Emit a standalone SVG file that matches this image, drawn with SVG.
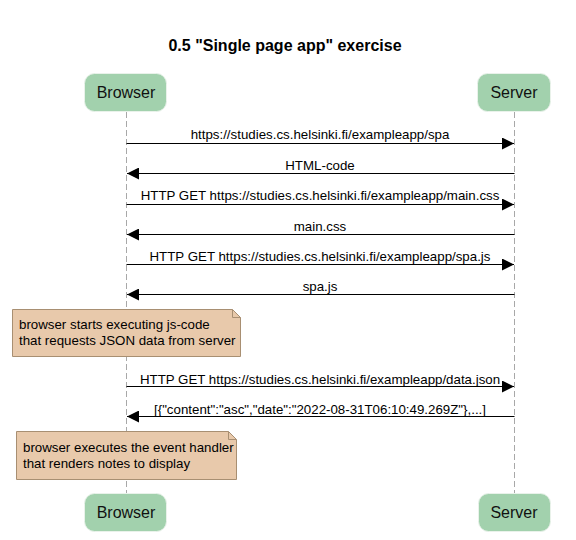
<svg xmlns="http://www.w3.org/2000/svg" width="576" height="540" viewBox="0 0 576 540">
<style>
.actor{fill:#a2d1ad;stroke:#e9f2ea;stroke-width:1}
.atxt{font-family:"Liberation Sans",Arial,sans-serif;font-size:16px;fill:#111;text-anchor:middle}
.msg{font-family:"Liberation Sans",Arial,sans-serif;font-size:13.3px;fill:#000;text-anchor:middle}
.line{stroke:#000;stroke-width:1;fill:none}
.life{stroke:#a8a8a8;stroke-width:1;stroke-dasharray:6,3;fill:none}
.note{fill:#e8c9ab;stroke:#a88f72;stroke-width:1}
.ntxt{font-family:"Liberation Sans",Arial,sans-serif;font-size:13.3px;fill:#000}
</style>
<defs>
<marker id="ah" markerWidth="12" markerHeight="12" refX="10" refY="5" orient="auto" markerUnits="userSpaceOnUse" viewBox="0 0 10 10">
<path d="M0,0 L10,5 L0,10 z" fill="#000"/>
</marker>
</defs>
<rect width="576" height="540" fill="#fff"/>
<text x="285" y="51" font-family="'Liberation Sans',Arial,sans-serif" font-size="16" font-weight="bold" text-anchor="middle">0.5 "Single page app" exercise</text>
<g id="lifelines">
<line class="life" x1="126.5" y1="112" x2="126.5" y2="494"/>
<line class="life" x1="514.5" y1="112" x2="514.5" y2="494"/>
</g>
<g id="browser-top"><rect class="actor" x="84.5" y="73.5" width="82" height="38" rx="10"/><text class="atxt" x="126" y="98">Browser</text></g>
<g id="server-top"><rect class="actor" x="477.5" y="73.5" width="73" height="38" rx="10"/><text class="atxt" x="514" y="98">Server</text></g>
<g id="browser-bottom"><rect class="actor" x="84.5" y="493.5" width="82" height="38" rx="10"/><text class="atxt" x="126" y="518">Browser</text></g>
<g id="server-bottom"><rect class="actor" x="478.5" y="493.5" width="72" height="38" rx="10"/><text class="atxt" x="514" y="518">Server</text></g>
<g id="connectors">
<line class="line" x1="126.5" y1="143.5" x2="514" y2="143.5" marker-end="url(#ah)"/>
<text class="msg" x="320" y="139">https://studies.cs.helsinki.fi/exampleapp/spa</text>
<line class="line" x1="514.5" y1="173.5" x2="127" y2="173.5" marker-end="url(#ah)"/>
<text class="msg" x="320" y="170">HTML-code</text>
<line class="line" x1="126.5" y1="204.5" x2="514" y2="204.5" marker-end="url(#ah)"/>
<text class="msg" x="320" y="200">HTTP GET https://studies.cs.helsinki.fi/exampleapp/main.css</text>
<line class="line" x1="514.5" y1="234.5" x2="127" y2="234.5" marker-end="url(#ah)"/>
<text class="msg" x="320" y="231">main.css</text>
<line class="line" x1="126.5" y1="264.5" x2="514" y2="264.5" marker-end="url(#ah)"/>
<text class="msg" x="320" y="261">HTTP GET https://studies.cs.helsinki.fi/exampleapp/spa.js</text>
<line class="line" x1="514.5" y1="294.5" x2="127" y2="294.5" marker-end="url(#ah)"/>
<text class="msg" x="320" y="291">spa.js</text>
<line class="line" x1="126.5" y1="386.5" x2="514" y2="386.5" marker-end="url(#ah)"/>
<text class="msg" x="320" y="384">HTTP GET https://studies.cs.helsinki.fi/exampleapp/data.json</text>
<line class="line" x1="514.5" y1="416.5" x2="127" y2="416.5" marker-end="url(#ah)"/>
<text class="msg" x="320" y="414">[{"content":"asc","date":"2022-08-31T06:10:49.269Z"},...]</text>
</g>
<g id="note1">
<path class="note" d="M12.5,309.5 H232.5 L240.5,317.5 V356.5 H12.5 Z"/>
<path d="M232.5,309.5 V317.5 H240.5" fill="none" stroke="#a88f72"/>
<text class="ntxt" x="19" y="329">browser starts executing js-code</text>
<text class="ntxt" x="19" y="345">that requests JSON data from server</text>
</g>
<g id="note2">
<path class="note" d="M16.5,431.5 H228.5 L236.5,439.5 V479.5 H16.5 Z"/>
<path d="M228.5,431.5 V439.5 H236.5" fill="none" stroke="#a88f72"/>
<text class="ntxt" x="23" y="452">browser executes the event handler</text>
<text class="ntxt" x="23" y="468">that renders notes to display</text>
</g>
</svg>
